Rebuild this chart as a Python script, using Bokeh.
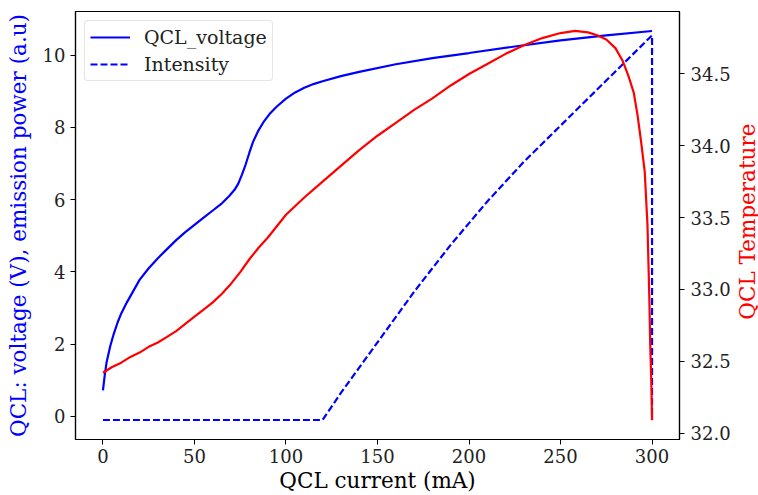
import math
from bokeh.plotting import figure
from bokeh.layouts import row
from bokeh.models import (Range1d, LinearAxis, FixedTicker, Legend, LegendItem,
                          PrintfTickFormatter)
from bokeh.core.properties import value
from bokeh.embed import file_html
from bokeh.resources import INLINE

# ---- data ----
current_v = [0, 1, 2, 4, 6, 8, 10, 13, 16, 20, 25, 30, 35, 40, 45, 50, 55, 60, 65, 69,
             72, 74, 76, 78, 80, 82, 85, 88, 91, 95, 100, 105, 110, 115, 120, 130, 140,
             160, 180, 200, 225, 250, 275, 300]
voltage = [0.72, 1.15, 1.5, 1.95, 2.3, 2.6, 2.85, 3.15, 3.42, 3.78, 4.1, 4.38, 4.63, 4.88,
           5.1, 5.3, 5.5, 5.7, 5.9, 6.1, 6.28, 6.45, 6.7, 6.98, 7.3, 7.6, 7.92, 8.17, 8.37,
           8.58, 8.8, 8.97, 9.1, 9.2, 9.28, 9.42, 9.54, 9.75, 9.92, 10.06, 10.24, 10.41,
           10.55, 10.67]

current_i = [0, 120, 130, 140, 150, 160, 170, 180, 190, 200, 210, 220, 230, 240, 250, 260,
             270, 280, 290, 300, 300]
intensity = [-0.1, -0.1, 0.65, 1.35, 2.05, 2.75, 3.45, 4.1, 4.75, 5.35, 5.95, 6.5, 7.05,
             7.55, 8.05, 8.55, 9.05, 9.55, 10.05, 10.55, -0.1]

current_t = [0, 5, 10, 15, 20, 25, 30, 35, 40, 45, 50, 55, 60, 65, 70, 75, 80, 85, 90, 95,
             100, 110, 120, 130, 140, 150, 160, 170, 180, 190, 200, 210, 220, 230, 240, 250,
             258, 265, 270, 275, 280, 284, 287, 290, 292, 294, 296, 297.5, 298.5, 299,
             299.6, 300]
temperature = [32.42, 32.46, 32.49, 32.53, 32.56, 32.60, 32.63, 32.67, 32.71, 32.76, 32.81,
               32.86, 32.91, 32.97, 33.04, 33.12, 33.21, 33.29, 33.36, 33.44, 33.52, 33.64,
               33.75, 33.86, 33.97, 34.07, 34.16, 34.25, 34.33, 34.42, 34.50, 34.57, 34.64,
               34.70, 34.75, 34.785, 34.80, 34.79, 34.77, 34.74, 34.68, 34.59, 34.49, 34.37,
               34.22, 34.03, 33.82, 33.45, 32.95, 32.62, 32.35, 32.09]

x_ticks = [0, 50, 100, 150, 200, 250, 300]
y_ticks = [0, 2, 4, 6, 8, 10]
t_ticks = [32.0, 32.5, 33.0, 33.5, 34.0, 34.5]
right_title = ["QCL Temperature"]

FONT = "DejaVu Serif"
H = 495
MAIN_W, SIDE_W = 733, 25
LEFT, RIGHT, TOP, BOTTOM = 75, 52, 11, 54

p = figure(width=MAIN_W, height=H, output_backend="svg", toolbar_location=None,
           x_range=Range1d(-15, 315), y_range=Range1d(-0.64, 11.21),
           min_border_left=LEFT, min_border_right=RIGHT, min_border_top=TOP,
           min_border_bottom=BOTTOM)
p.extra_y_ranges = {"temp": Range1d(31.955, 34.935)}

p.xgrid.visible = False
p.ygrid.visible = False
p.outline_line_color = "black"
p.outline_line_width = 1.2
p.background_fill_color = "white"
p.border_fill_color = "white"

def style_axis(ax):
    ax.major_label_text_font = FONT
    ax.major_label_text_font_size = "18px"
    ax.major_label_text_color = "#222222"
    ax.axis_label_text_font = FONT
    ax.axis_label_text_font_size = "21.5px"
    ax.axis_label_text_font_style = "normal"
    ax.minor_tick_line_color = None
    ax.major_tick_in = 0
    ax.major_tick_out = 5
    ax.major_tick_line_color = "black"
    ax.axis_line_color = "black"
    ax.axis_line_width = 1.2

xa = p.xaxis[0]
style_axis(xa)
xa.ticker = FixedTicker(ticks=x_ticks)
xa.axis_label = "QCL current (mA)"
xa.axis_label_text_color = "black"
xa.major_label_standoff = 4
xa.axis_label_standoff = 2

ya = p.yaxis[0]
style_axis(ya)
ya.ticker = FixedTicker(ticks=y_ticks)
ya.axis_label = "QCL: voltage (V), emission power (a.u)"
ya.axis_label_text_color = "blue"
ya.major_label_standoff = 5
ya.axis_label_standoff = 9

ra = LinearAxis(y_range_name="temp")
style_axis(ra)
ra.ticker = FixedTicker(ticks=t_ticks)
ra.formatter = PrintfTickFormatter(format="%.1f")
ra.major_label_standoff = 6
p.add_layout(ra, "right")

r_v = p.line(current_v, voltage, line_color="blue", line_width=2.2)
r_i = p.line(current_i, intensity, line_color="blue", line_width=2.2, line_dash="7 3")
p.line(current_t, temperature, line_color="red", line_width=2.2, y_range_name="temp")

legend = Legend(items=[LegendItem(label="QCL_voltage", renderers=[r_v]),
                       LegendItem(label="Intensity", renderers=[r_i])],
                location="top_left", margin=9, padding=5, spacing=5,
                glyph_width=40, glyph_height=22, label_standoff=14,
                label_text_font=FONT, label_text_font_size="19px",
                label_text_color="#222222",
                border_line_color="#cccccc", border_line_width=1,
                border_radius=4, background_fill_alpha=0.8)
p.add_layout(legend)

# narrow strip on the right carrying the right-axis title (reads bottom to top)
s = figure(width=SIDE_W, height=H, output_backend="svg", toolbar_location=None,
           x_range=Range1d(0, SIDE_W), y_range=Range1d(0, H),
           x_axis_location=None, y_axis_location=None,
           min_border_left=0, min_border_right=0, min_border_top=0, min_border_bottom=0)
s.outline_line_color = None
s.xgrid.visible = False
s.ygrid.visible = False
s.border_fill_color = "white"
s.text(x=[14], y=[H - 243], text=right_title, angle=math.pi / 2,
       text_align="center", text_baseline="middle", text_color="red",
       text_font=value(FONT), text_font_size="21.5px")

layout = row(p, s, spacing=0)

open("out.html", "w").write(file_html(layout, INLINE))
